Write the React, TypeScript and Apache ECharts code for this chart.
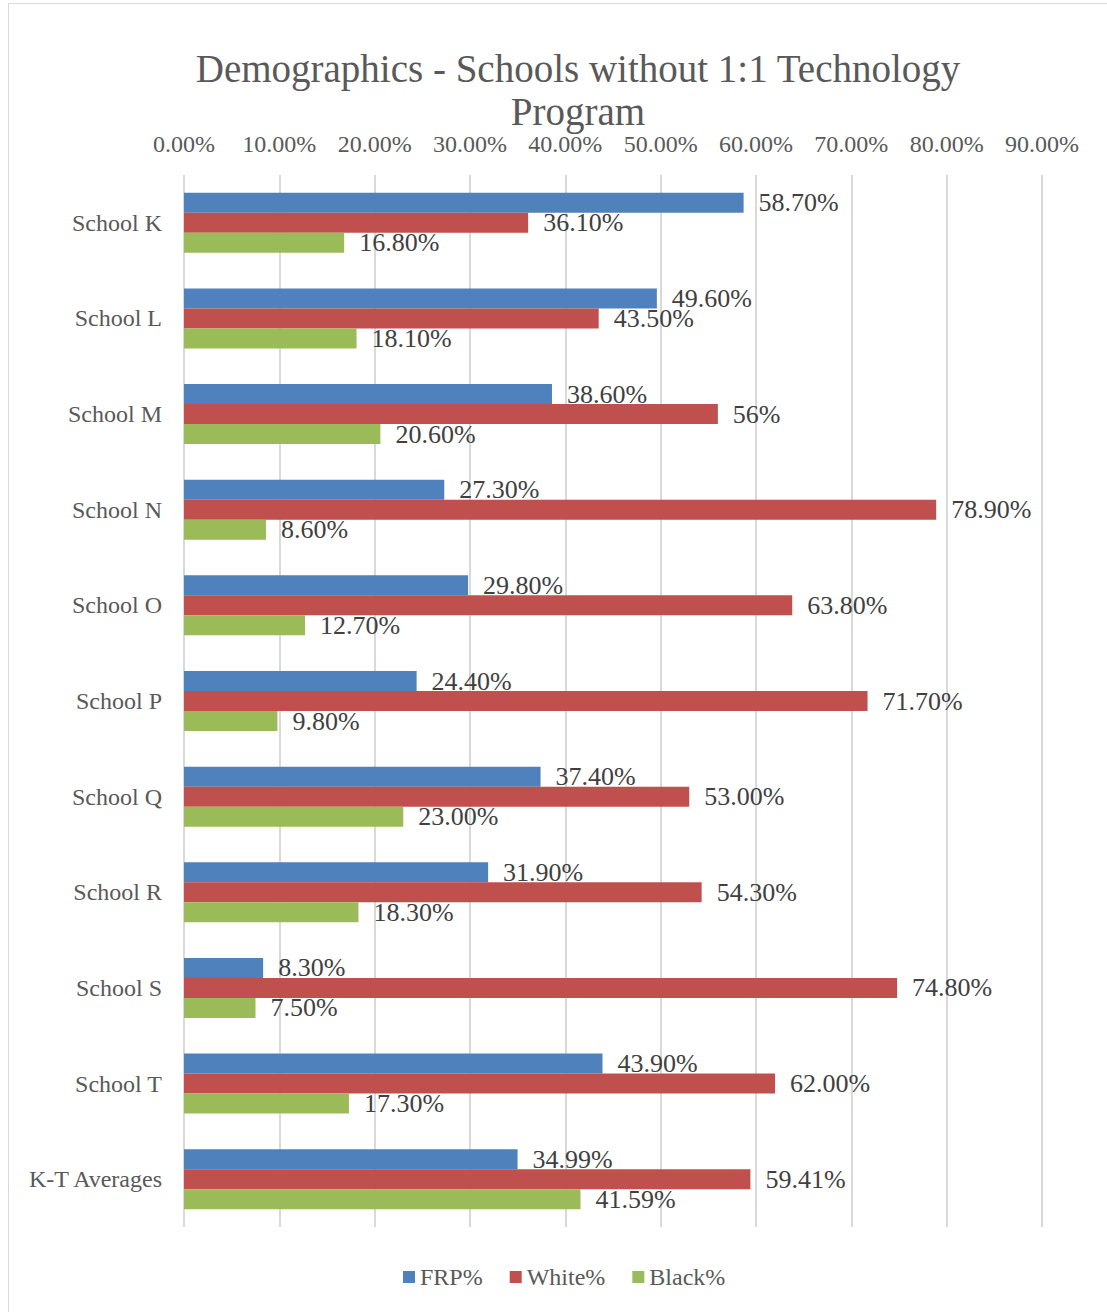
import React, { useEffect, useRef } from "react";
import * as echarts from "echarts";

const titleText = "Demographics - Schools without 1:1 Technology\nProgram";
const categories = [
  "School K", "School L", "School M", "School N", "School O", "School P",
  "School Q", "School R", "School S", "School T", "K-T Averages",
];
const frp = [58.7, 49.6, 38.6, 27.3, 29.8, 24.4, 37.4, 31.9, 8.3, 43.9, 34.99];
const white = [36.1, 43.5, 56, 78.9, 63.8, 71.7, 53.0, 54.3, 74.8, 62.0, 59.41];
const black = [16.8, 18.1, 20.6, 8.6, 12.7, 9.8, 23.0, 18.3, 7.5, 17.3, 41.59];
// label text that the source shows without decimals
const whiteLabelOverrides: Record<number, string> = { 2: "56%" };
const seriesNames = ["FRP%", "White%", "Black%"];
const colors = ["#4F81BD", "#C0504D", "#9BBB59"];
const axisTicks = { min: 0, max: 90, interval: 10 };

const FONT = "'Liberation Serif', 'DejaVu Serif', serif";

export default function App() {
  const ref = useRef<HTMLDivElement>(null);
  useEffect(() => {
    if (!ref.current) return;
    const chart = echarts.init(ref.current, undefined, { renderer: "svg" });
    const mkSeries = (name: string, data: number[], color: string, overrides?: Record<number, string>) => ({
      name,
      type: "bar",
      data,
      barWidth: 20,
      barGap: "0%",
      itemStyle: { color },
      label: {
        show: true,
        position: "right",
        distance: 15,
        color: "#404040",
        fontFamily: FONT,
        fontSize: 26,
        formatter: (p: any) =>
          overrides && overrides[p.dataIndex] !== undefined
            ? overrides[p.dataIndex]
            : Number(p.value).toFixed(2) + "%",
      },
    });
    chart.setOption({
      animation: false,
      backgroundColor: "transparent",
      title: {
        text: titleText,
        left: 573,
        top: 42,
        textAlign: "center",
        textStyle: {
          fontFamily: FONT,
          fontSize: 39,
          fontWeight: "normal",
          color: "#595959",
          lineHeight: 43,
        },
      },
      legend: {
        bottom: 18,
        left: 398,
        itemWidth: 12,
        itemHeight: 12,
        itemGap: 27,
        icon: "rect",
        textStyle: { fontFamily: FONT, fontSize: 24, color: "#595959" },
        data: seriesNames,
      },
      grid: { left: 184, top: 175, width: 858, height: 1052, containLabel: false },
      xAxis: {
        type: "value",
        position: "top",
        min: axisTicks.min,
        max: axisTicks.max,
        interval: axisTicks.interval,
        axisLine: { show: false },
        axisTick: { show: false },
        splitLine: { show: true, lineStyle: { color: "#d9d9d9", width: 2 } },
        axisLabel: {
          margin: 19,
          color: "#595959",
          fontFamily: FONT,
          fontSize: 24,
          formatter: (v: number) => v.toFixed(2) + "%",
        },
      },
      yAxis: {
        type: "category",
        data: categories,
        inverse: true,
        axisLine: { show: false },
        axisTick: { show: false },
        axisLabel: { margin: 22, color: "#595959", fontFamily: FONT, fontSize: 24 },
      },
      series: [
        mkSeries(seriesNames[0], frp, colors[0]),
        mkSeries(seriesNames[1], white, colors[1], whiteLabelOverrides),
        mkSeries(seriesNames[2], black, colors[2]),
      ],
    });
    return () => chart.dispose();
  }, []);
  return (
    <div style={{ position: "absolute", left: 0, top: 0, width: 1107, height: 1312, background: "#fff", overflow: "hidden" }}>
      <div
        style={{
          position: "absolute",
          left: 8,
          top: 3,
          width: 1200,
          height: 1400,
          borderLeft: "1px solid #d9d9d9",
          borderTop: "1px solid #d9d9d9",
        }}
      />
      <div ref={ref} style={{ position: "absolute", left: 0, top: 0, width: 1107, height: 1312 }} />
    </div>
  );
}
